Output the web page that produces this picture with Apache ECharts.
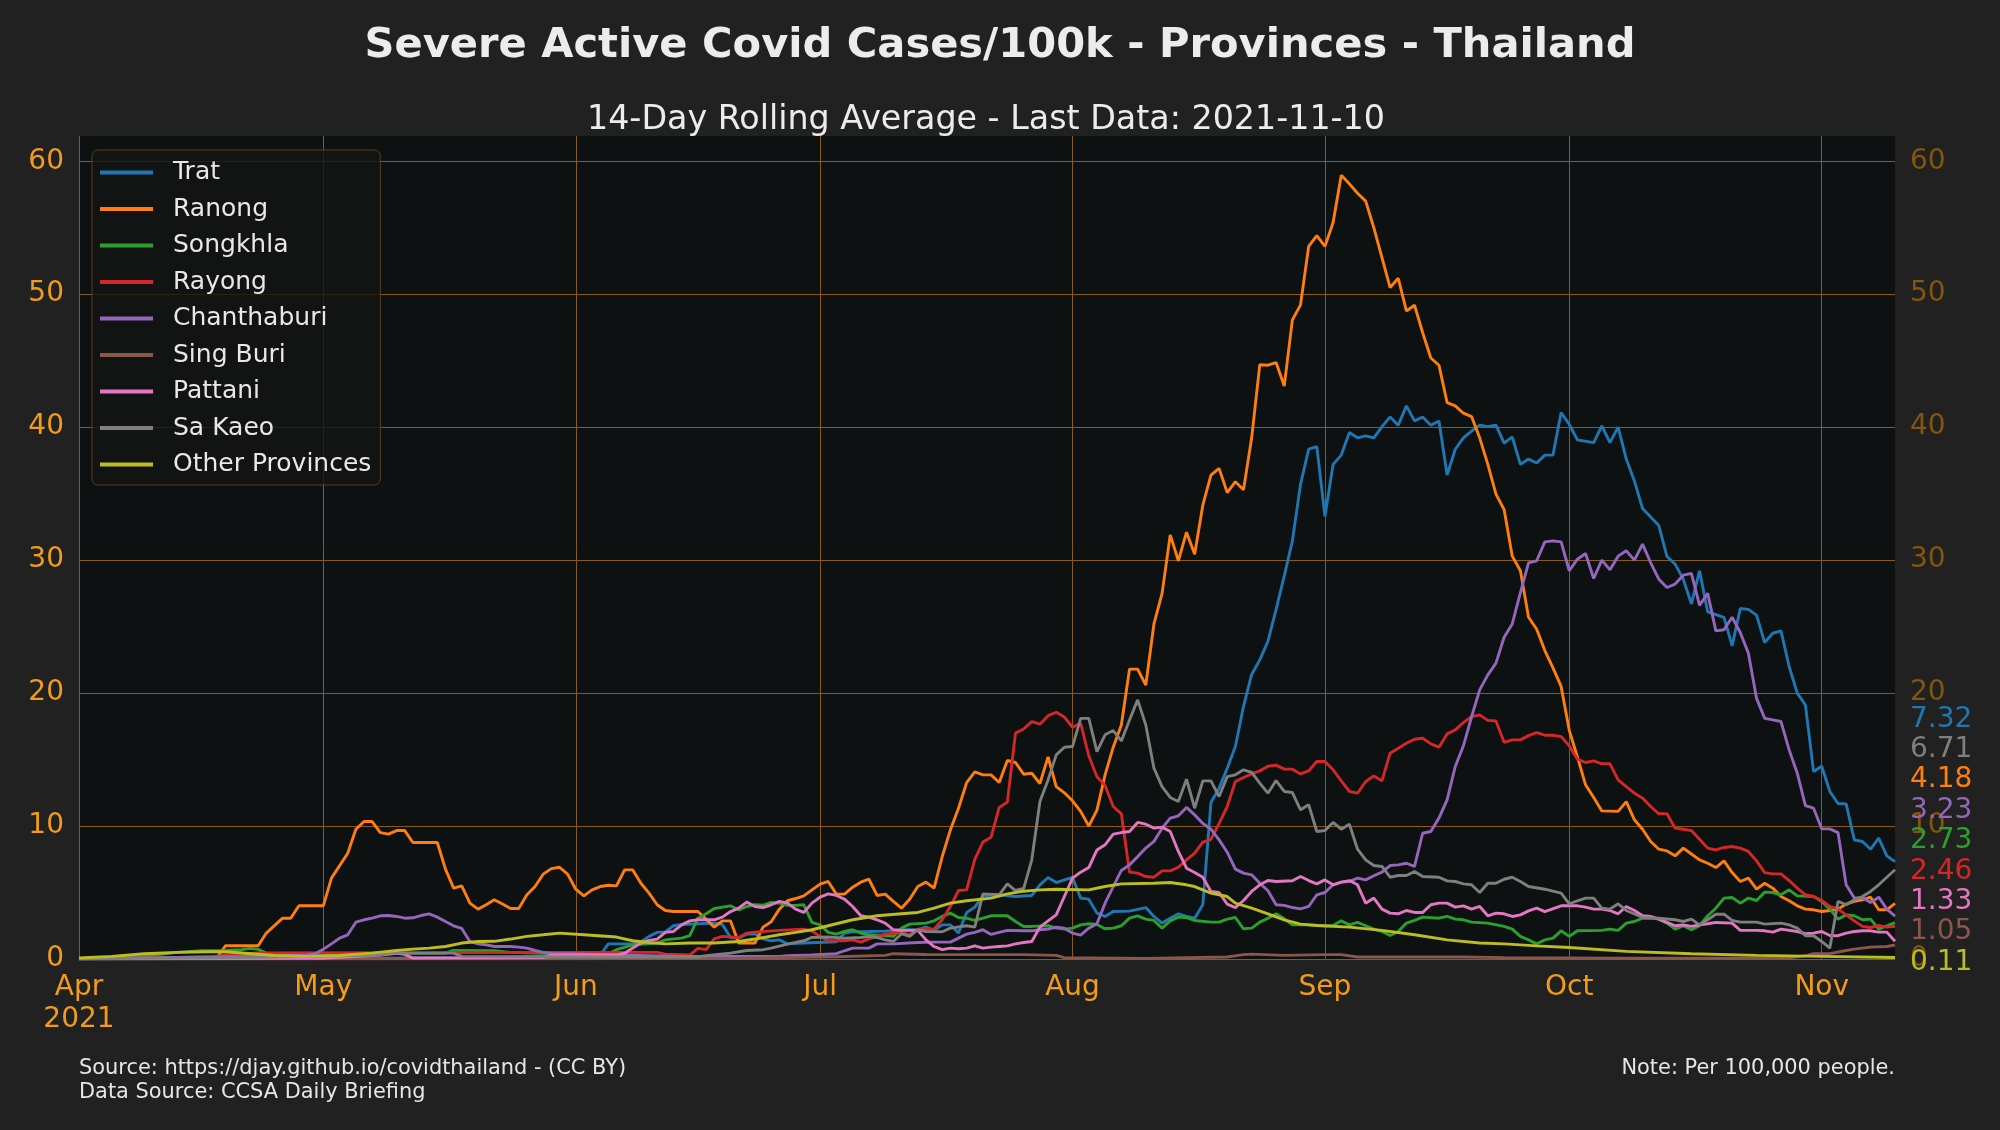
<!DOCTYPE html>
<html>
<head>
<meta charset="utf-8">
<title>Severe Active Covid Cases/100k - Provinces - Thailand</title>
<script src="https://cdn.jsdelivr.net/npm/echarts@6.0.0/dist/echarts.min.js"></script>
<style>
  html, body { margin: 0; padding: 0; background: #212121; }
  #main { width: 2000px; height: 1130px; }
</style>
</head>
<body>
<div id="main"></div>
<script>
// day offsets from 2021-04-01, values per 100k (14-day rolling average)
const startDay = Date.UTC(2021, 3, 1);
const dayCount = 224; // 2021-04-01 .. 2021-11-10
const monthNames = ['Jan', 'Feb', 'Mar', 'Apr', 'May', 'Jun', 'Jul', 'Aug', 'Sep', 'Oct', 'Nov', 'Dec'];
const yTicks = [0, 10, 20, 30, 40, 50, 60];

const trat = [[0,0.0],[30,0.05],[50,0.1],[64,0.3],[65,1.14],[68,1.14],[69,1.3],[70,1.7],[71,2.0],[72,2.04],[73,2.5],[74,2.6],[78,2.7],[79,2.6],[80,1.62],[81,1.57],[82,1.87],[83,1.9],[84,1.52],[85,1.37],[86,1.44],[87,1.14],[89,1.2],[93,1.3],[94,1.95],[95,2.05],[97,2.07],[99,2.1],[101,2.2],[103,2.2],[104,2.4],[105,2.15],[106,2.57],[107,2.57],[108,1.95],[109,3.5],[110,3.9],[111,4.75],[113,4.83],[115,4.7],[117,4.78],[118,5.58],[119,6.13],[120,5.75],[121,5.95],[122,6.13],[123,4.58],[124,4.5],[125,3.45],[126,3.2],[127,3.57],[129,3.6],[131,3.87],[132,3.2],[133,2.7],[134,3.07],[135,3.4],[136,3.2],[137,3.07],[138,4.08],[139,11.77],[140,12.85],[141,14.35],[142,15.98],[143,19.0],[144,21.4],[145,22.5],[146,23.9],[147,26.3],[148,28.8],[149,31.45],[150,35.7],[151,38.34],[152,38.54],[153,33.3],[154,37.2],[155,37.9],[156,39.6],[157,39.2],[158,39.34],[159,39.2],[160,40.04],[161,40.77],[162,40.15],[163,41.6],[164,40.47],[165,40.77],[166,40.15],[167,40.47],[168,36.4],[169,38.34],[170,39.2],[171,39.7],[172,40.15],[173,40.04],[174,40.15],[175,38.8],[176,39.27],[177,37.2],[178,37.6],[179,37.3],[180,37.9],[181,37.9],[182,41.1],[183,40.2],[184,39.04],[186,38.84],[187,40.1],[188,38.84],[189,40.0],[190,37.6],[191,35.96],[192,33.88],[193,33.25],[194,32.6],[195,30.27],[196,29.7],[197,28.57],[198,26.7],[199,29.2],[200,26.1],[201,25.9],[202,25.7],[203,23.55],[204,26.36],[205,26.3],[206,25.86],[207,23.8],[208,24.5],[209,24.68],[210,22.0],[211,20.0],[212,19.1],[213,14.1],[214,14.5],[215,12.6],[216,11.7],[217,11.67],[218,8.96],[219,8.84],[220,8.26],[221,9.09],[222,7.76],[223,7.32]];

const ranong = [[0,0.05],[10,0.1],[17,0.15],[18,1.0],[22,1.0],[23,1.95],[25,3.07],[26,3.07],[27,4.0],[30,4.0],[31,6.08],[33,7.96],[34,9.76],[35,10.34],[36,10.34],[37,9.5],[38,9.39],[39,9.66],[40,9.66],[41,8.76],[44,8.76],[45,6.76],[46,5.33],[47,5.5],[48,4.2],[49,3.75],[50,4.08],[51,4.45],[52,4.13],[53,3.8],[54,3.8],[55,4.83],[56,5.45],[57,6.38],[58,6.8],[59,6.9],[60,6.38],[61,5.25],[62,4.75],[63,5.2],[64,5.45],[65,5.55],[66,5.5],[67,6.7],[68,6.7],[69,5.7],[70,4.95],[71,4.08],[72,3.65],[73,3.57],[76,3.57],[77,3.0],[78,2.4],[79,2.87],[80,2.87],[81,1.2],[83,1.2],[84,2.4],[85,2.8],[86,3.75],[87,4.38],[88,4.55],[89,4.75],[90,5.2],[91,5.63],[92,5.83],[93,4.88],[94,4.88],[95,5.4],[96,5.78],[97,6.0],[98,4.78],[99,4.88],[100,4.33],[101,3.82],[102,4.5],[103,5.45],[104,5.78],[105,5.33],[106,7.7],[107,9.7],[108,11.34],[109,13.27],[110,14.07],[111,13.85],[112,13.85],[113,13.27],[114,14.93],[115,14.78],[116,13.9],[117,13.97],[118,13.2],[119,15.2],[120,12.97],[121,12.5],[122,11.9],[123,11.1],[124,10.0],[125,11.2],[126,13.85],[127,15.93],[128,17.6],[129,21.8],[130,21.8],[131,20.6],[132,25.2],[133,27.5],[134,31.9],[135,29.95],[136,32.1],[137,30.45],[138,34.13],[139,36.4],[140,36.9],[141,35.08],[142,35.9],[143,35.3],[144,39.2],[145,44.7],[146,44.66],[147,44.86],[148,43.1],[149,48.07],[150,49.2],[151,53.6],[152,54.4],[153,53.6],[154,55.4],[155,58.94],[156,58.3],[157,57.6],[158,57.0],[159,55.0],[160,52.75],[161,50.5],[162,51.2],[163,48.74],[164,49.17],[165,47.1],[166,45.2],[167,44.66],[168,41.85],[169,41.6],[170,41.05],[171,40.8],[172,39.2],[173,37.2],[174,34.96],[175,33.8],[176,30.3],[177,29.2],[178,25.7],[179,24.8],[180,23.2],[181,21.9],[182,20.5],[183,17.2],[184,15.2],[185,13.1],[186,12.15],[187,11.14],[189,11.1],[190,11.84],[191,10.47],[192,9.76],[193,8.84],[194,8.26],[195,8.13],[196,7.76],[197,8.34],[198,7.9],[199,7.46],[200,7.2],[201,6.88],[202,7.38],[203,6.5],[204,5.83],[205,6.08],[206,5.25],[207,5.7],[208,5.33],[209,4.7],[210,4.38],[211,4.0],[212,3.75],[213,3.7],[214,3.57],[215,3.65],[216,3.75],[217,4.13],[218,4.33],[219,4.45],[220,4.65],[221,3.7],[222,3.7],[223,4.18]];

const songkhla = [[0,0.02],[8,0.2],[12,0.5],[15,0.62],[18,0.64],[20,0.7],[21,0.8],[22,0.72],[23,0.44],[25,0.42],[29,0.3],[40,0.42],[45,0.44],[46,0.64],[51,0.62],[53,0.5],[59,0.4],[65,0.4],[66,0.7],[68,1.07],[71,1.2],[72,1.44],[74,1.57],[75,1.75],[76,3.07],[77,3.4],[78,3.8],[80,4.0],[81,3.7],[82,3.95],[83,4.08],[84,4.05],[85,4.25],[86,4.2],[87,4.03],[88,4.03],[89,4.08],[90,2.75],[91,2.57],[92,2.0],[93,1.87],[94,2.07],[95,2.2],[96,1.95],[97,1.82],[99,1.77],[100,1.7],[101,2.32],[102,2.62],[104,2.7],[105,2.87],[106,3.2],[107,3.45],[108,3.12],[109,3.07],[110,2.9],[111,3.07],[112,3.25],[114,3.25],[115,2.82],[116,2.45],[117,2.45],[119,2.5],[120,2.32],[121,2.25],[122,2.32],[123,2.57],[124,2.65],[125,2.6],[126,2.27],[127,2.32],[128,2.5],[129,3.07],[130,3.25],[131,3.0],[132,2.9],[133,2.32],[134,2.87],[135,3.15],[136,3.12],[137,2.9],[139,2.77],[140,2.77],[141,3.0],[142,3.12],[143,2.27],[144,2.32],[145,2.77],[146,3.07],[147,3.4],[148,3.02],[149,2.57],[151,2.57],[153,2.5],[154,2.52],[155,2.87],[156,2.57],[157,2.75],[158,2.5],[159,2.25],[160,2.07],[161,1.77],[162,2.07],[163,2.7],[164,2.9],[165,3.15],[167,3.07],[168,3.2],[169,3.0],[170,2.95],[171,2.77],[173,2.7],[175,2.45],[176,2.25],[177,1.7],[178,1.44],[179,1.14],[180,1.44],[181,1.57],[182,2.12],[183,1.7],[184,2.12],[187,2.15],[188,2.25],[189,2.15],[190,2.7],[191,2.82],[192,3.07],[193,3.07],[194,3.0],[195,2.7],[196,2.25],[197,2.5],[198,2.2],[199,2.5],[200,3.25],[201,3.82],[202,4.58],[203,4.63],[204,4.2],[205,4.58],[206,4.4],[207,5.03],[208,5.0],[209,4.83],[210,5.2],[211,4.75],[213,4.7],[214,4.33],[215,3.75],[216,3.0],[217,3.32],[218,3.25],[219,2.95],[220,3.0],[221,2.25],[222,2.5],[223,2.73]];

const rayong = [[0,0.05],[16,0.1],[18,0.3],[22,0.45],[58,0.5],[71,0.5],[72,0.37],[75,0.3],[76,0.8],[77,0.7],[78,1.52],[79,1.7],[81,1.62],[82,1.95],[83,2.02],[86,2.15],[89,2.25],[90,2.1],[91,1.7],[92,1.37],[94,1.37],[95,1.44],[96,1.27],[97,1.52],[99,1.87],[101,2.0],[102,1.82],[103,2.25],[105,2.25],[106,2.95],[107,3.95],[108,5.15],[109,5.2],[110,7.5],[111,8.8],[112,9.16],[113,11.4],[114,11.8],[115,17.0],[116,17.3],[117,17.86],[118,17.66],[119,18.3],[120,18.56],[121,18.2],[122,17.43],[123,17.73],[124,15.28],[125,13.7],[126,13.05],[127,11.47],[128,10.92],[129,6.53],[130,6.46],[131,6.2],[132,6.15],[133,6.63],[134,6.63],[135,6.9],[136,7.46],[137,7.96],[138,8.79],[139,9.0],[140,10.2],[141,11.47],[142,13.35],[143,13.65],[144,13.92],[145,14.15],[146,14.5],[147,14.58],[148,14.28],[149,14.28],[150,13.92],[151,14.15],[152,14.85],[153,14.85],[154,14.23],[155,13.4],[156,12.6],[157,12.47],[158,13.35],[159,13.77],[160,13.4],[161,15.48],[162,15.85],[163,16.23],[164,16.53],[165,16.6],[166,16.18],[167,15.93],[168,16.93],[169,17.23],[170,17.78],[171,18.23],[172,18.36],[173,17.95],[174,17.9],[175,16.3],[176,16.48],[177,16.48],[178,16.8],[179,17.03],[180,16.83],[181,16.83],[182,16.73],[183,16.03],[184,15.03],[185,14.78],[186,14.9],[187,14.68],[188,14.68],[189,13.47],[190,12.97],[191,12.47],[192,12.1],[193,11.47],[194,10.92],[195,10.92],[196,9.84],[197,9.76],[198,9.66],[199,9.0],[200,8.34],[201,8.2],[202,8.39],[203,8.46],[204,8.34],[205,8.09],[206,7.38],[207,6.5],[208,6.4],[209,6.4],[210,5.9],[211,5.33],[212,4.83],[213,4.7],[214,4.4],[215,3.95],[216,3.75],[217,3.32],[218,2.87],[219,2.45],[220,2.37],[221,2.52],[222,2.4],[223,2.46]];

const chanthaburi = [[0,0.05],[10,0.1],[20,0.2],[28,0.3],[29,0.4],[30,0.74],[31,1.14],[32,1.57],[33,1.82],[34,2.77],[35,2.95],[36,3.07],[37,3.25],[38,3.27],[39,3.2],[40,3.07],[41,3.1],[42,3.27],[43,3.4],[44,3.15],[45,2.82],[46,2.5],[47,2.3],[48,1.32],[49,1.14],[50,1.07],[51,0.94],[53,0.94],[54,0.89],[55,0.82],[56,0.64],[57,0.5],[58,0.42],[60,0.4],[66,0.3],[74,0.2],[86,0.2],[87,0.24],[90,0.3],[93,0.4],[94,0.62],[95,0.82],[97,0.82],[98,1.14],[100,1.14],[103,1.24],[105,1.27],[107,1.27],[108,1.57],[109,1.87],[110,2.0],[111,2.2],[112,1.85],[113,2.0],[114,2.15],[116,2.12],[117,2.12],[118,2.2],[119,2.25],[120,2.4],[121,2.32],[122,1.95],[123,1.8],[124,2.32],[125,2.65],[126,4.2],[127,5.45],[128,6.66],[129,7.08],[130,7.7],[131,8.34],[132,8.84],[133,9.84],[134,10.6],[135,10.77],[136,11.4],[137,10.84],[138,10.2],[139,9.76],[140,8.96],[141,8.03],[142,6.76],[143,6.46],[144,6.33],[145,5.7],[146,5.13],[147,4.08],[148,4.03],[149,3.87],[150,3.77],[151,3.95],[152,4.83],[153,5.0],[154,5.58],[155,5.78],[156,5.83],[157,6.08],[158,5.95],[159,6.26],[160,6.53],[161,7.03],[162,7.08],[163,7.2],[164,6.96],[165,9.46],[166,9.59],[167,10.6],[168,11.97],[169,14.48],[170,16.03],[171,18.2],[172,20.24],[173,21.37],[174,22.25],[175,24.2],[176,25.2],[177,27.56],[178,29.8],[179,29.95],[180,31.37],[181,31.45],[182,31.37],[183,29.2],[184,30.07],[185,30.5],[186,28.62],[187,30.0],[188,29.27],[189,30.3],[190,30.7],[191,30.0],[192,31.2],[193,29.8],[194,28.57],[195,27.94],[196,28.2],[197,28.87],[198,29.0],[199,26.6],[200,27.5],[201,24.68],[202,24.76],[203,25.7],[204,24.56],[205,23.0],[206,19.6],[207,18.1],[208,17.98],[209,17.86],[210,15.73],[211,13.97],[212,11.54],[213,11.34],[214,9.79],[215,9.79],[216,9.51],[217,5.58],[218,4.58],[219,4.63],[220,4.25],[221,4.65],[222,3.75],[223,3.23]];

const singBuri = [[0,0.0],[60,0.02],[80,0.05],[93,0.17],[99,0.27],[100,0.4],[104,0.34],[116,0.33],[120,0.27],[121,0.1],[131,0.05],[141,0.15],[143,0.33],[144,0.37],[148,0.27],[153,0.33],[155,0.33],[157,0.15],[170,0.15],[175,0.1],[190,0.06],[210,0.08],[212,0.24],[213,0.4],[215,0.4],[217,0.64],[218,0.74],[220,0.89],[222,0.94],[223,1.05]];

const pattani = [[0,0.02],[30,0.05],[37,0.3],[39,0.42],[40,0.35],[41,0.07],[57,0.1],[58,0.3],[66,0.3],[67,0.44],[68,0.82],[69,1.2],[70,1.4],[71,1.5],[72,2.0],[73,2.07],[74,2.57],[75,2.87],[76,2.95],[78,2.95],[79,3.15],[80,3.57],[81,3.82],[82,4.28],[83,3.95],[84,3.87],[85,4.08],[86,4.33],[87,4.2],[88,3.75],[89,3.5],[90,4.2],[91,4.65],[92,4.9],[93,4.78],[94,4.5],[95,3.95],[96,3.25],[97,3.15],[98,2.95],[99,2.7],[100,2.2],[101,2.15],[103,2.15],[104,1.44],[105,0.94],[106,0.7],[107,0.82],[108,0.77],[109,0.82],[110,0.99],[111,0.82],[112,0.89],[113,0.94],[114,0.99],[115,1.14],[116,1.24],[117,1.32],[118,2.4],[119,2.87],[120,3.32],[121,4.7],[122,6.08],[123,6.53],[124,6.88],[125,8.2],[126,8.59],[127,9.39],[128,9.51],[129,9.59],[130,10.27],[131,10.14],[132,9.84],[133,9.92],[134,9.59],[135,8.09],[136,6.83],[137,6.5],[138,6.15],[139,5.08],[140,5.0],[141,4.13],[142,3.87],[143,4.4],[144,5.08],[145,5.58],[146,5.9],[147,5.83],[149,5.88],[150,6.2],[151,5.9],[152,5.65],[153,5.95],[154,5.58],[155,5.78],[156,5.9],[157,5.58],[158,4.2],[159,4.58],[160,3.75],[161,3.45],[162,3.4],[163,3.65],[164,3.5],[165,3.5],[166,4.08],[167,4.2],[168,4.2],[169,3.9],[170,4.0],[171,3.75],[172,3.95],[173,3.25],[174,3.45],[175,3.4],[176,3.2],[177,3.32],[178,3.62],[179,3.82],[180,3.57],[182,4.0],[184,4.0],[185,3.9],[186,3.75],[187,3.75],[188,3.65],[189,3.4],[190,3.95],[191,3.65],[192,3.25],[193,3.2],[194,3.0],[195,2.75],[196,2.5],[197,2.57],[198,2.45],[199,2.57],[200,2.65],[201,2.75],[203,2.7],[204,2.15],[206,2.15],[207,2.12],[208,2.02],[209,2.25],[211,2.07],[212,1.9],[213,1.95],[214,2.07],[215,1.77],[216,1.75],[217,1.95],[218,2.07],[219,2.12],[220,2.12],[221,2.02],[222,2.02],[223,1.33]];

const saKaeo = [[0,0.02],[20,0.1],[37,0.3],[38,0.44],[46,0.44],[47,0.2],[60,0.15],[76,0.15],[77,0.24],[80,0.44],[82,0.64],[84,0.7],[85,0.82],[87,1.12],[89,1.37],[90,1.62],[92,1.65],[94,1.57],[96,1.62],[97,1.7],[98,1.62],[99,1.44],[100,1.32],[101,1.9],[102,1.7],[103,2.2],[104,2.07],[106,2.05],[107,2.32],[109,2.5],[110,2.4],[111,4.9],[113,4.83],[114,5.65],[115,5.15],[116,5.3],[117,7.46],[118,11.85],[119,13.47],[120,15.35],[121,15.93],[122,15.98],[123,18.1],[124,18.1],[125,15.6],[126,16.86],[127,17.18],[128,16.4],[129,17.98],[130,19.49],[131,17.6],[132,14.35],[133,12.97],[134,12.15],[135,11.85],[136,13.52],[137,11.34],[138,13.4],[139,13.4],[140,12.22],[141,13.72],[142,13.85],[143,14.23],[144,14.03],[145,13.22],[146,12.47],[147,13.42],[148,12.6],[149,12.52],[150,11.22],[151,11.6],[152,9.59],[153,9.66],[154,10.27],[155,9.76],[156,10.14],[157,8.26],[158,7.46],[159,7.03],[160,6.96],[161,6.15],[162,6.28],[163,6.28],[164,6.58],[165,6.2],[167,6.15],[168,5.88],[169,5.83],[170,5.65],[171,5.58],[172,5.0],[173,5.7],[174,5.7],[175,6.0],[176,6.15],[177,5.83],[178,5.45],[180,5.25],[182,4.95],[183,4.15],[184,4.38],[185,4.58],[186,4.58],[187,3.82],[188,3.75],[189,4.15],[190,3.65],[192,3.12],[194,3.07],[196,2.95],[197,2.82],[198,3.0],[199,2.57],[200,2.95],[201,3.37],[202,3.37],[203,2.9],[204,2.77],[206,2.77],[207,2.62],[209,2.7],[210,2.57],[211,2.32],[212,1.75],[213,1.75],[214,1.32],[215,0.82],[216,4.33],[217,4.08],[218,4.45],[219,4.7],[220,5.08],[221,5.58],[222,6.15],[223,6.71]];

const otherProvinces = [[0,0.07],[4,0.2],[8,0.4],[12,0.5],[16,0.55],[18,0.54],[20,0.45],[24,0.26],[28,0.2],[32,0.26],[36,0.44],[39,0.64],[41,0.74],[43,0.82],[45,0.94],[47,1.2],[49,1.32],[51,1.33],[53,1.5],[55,1.7],[57,1.82],[59,1.95],[62,1.82],[66,1.65],[68,1.37],[70,1.24],[72,1.14],[75,1.2],[78,1.2],[81,1.32],[83,1.5],[86,1.82],[88,2.0],[90,2.2],[93,2.65],[95,2.95],[98,3.25],[101,3.4],[103,3.5],[105,3.82],[107,4.2],[109,4.38],[112,4.58],[114,4.9],[116,5.1],[118,5.2],[120,5.25],[124,5.2],[126,5.45],[128,5.65],[132,5.7],[134,5.75],[136,5.58],[137,5.45],[139,4.95],[141,4.7],[142,4.2],[144,3.82],[146,3.4],[148,2.95],[150,2.62],[152,2.52],[156,2.4],[160,2.15],[164,1.82],[168,1.44],[172,1.2],[175,1.14],[179,0.99],[183,0.87],[190,0.57],[198,0.4],[206,0.27],[214,0.2],[223,0.11]];

const provinces = [
  { name: 'Trat', color: '#1f77b4', data: trat },
  { name: 'Ranong', color: '#ff7f0e', data: ranong },
  { name: 'Songkhla', color: '#2ca02c', data: songkhla },
  { name: 'Rayong', color: '#d62728', data: rayong },
  { name: 'Chanthaburi', color: '#9467bd', data: chanthaburi },
  { name: 'Sing Buri', color: '#8c564b', data: singBuri },
  { name: 'Pattani', color: '#e377c2', data: pattani },
  { name: 'Sa Kaeo', color: '#7f7f7f', data: saKaeo },
  { name: 'Other Provinces', color: '#bcbd22', data: otherProvinces }
];

const dates = [];
for (let i = 0; i < dayCount; i++) {
  dates.push(new Date(startDay + i * 86400000).toISOString().slice(0, 10));
}
const isMonthStart = (idx, val) => val.slice(8) === '01';

const font = 'DejaVu Sans';
const gridColor = '#8a5a16';
const tickOrange = '#f39c1a';
const tickBrown = '#82560e';

const chart = echarts.init(document.getElementById('main'));

chart.setOption({
  animation: false,
  backgroundColor: '#212121',
  textStyle: { fontFamily: font },
  title: [
    { text: 'Severe Active Covid Cases/100k - Provinces - Thailand', left: 'center', top: 25, padding: 0,
      textStyle: { color: '#ececec', fontSize: 41.6, fontWeight: 'bold', fontFamily: font } },
    { text: '14-Day Rolling Average - Last Data: 2021-11-10', left: 587, top: 103.5, padding: 0,
      textStyle: { color: '#ececec', fontSize: 33.3, fontWeight: 'normal', fontFamily: font } },
    { text: 'Source: https://djay.github.io/covidthailand - (CC BY)\nData Source: CCSA Daily Briefing', left: 79, top: 1057, padding: 0,
      textStyle: { color: '#e6e6e6', fontSize: 20.9, lineHeight: 24, fontWeight: 'normal', fontFamily: font } },
    { text: 'Note: Per 100,000 people.', right: 105, top: 1057, padding: 0,
      textStyle: { color: '#e6e6e6', fontSize: 20.9, lineHeight: 24, fontWeight: 'normal', fontFamily: font } }
  ],
  legend: {
    orient: 'vertical',
    left: 92,
    top: 150,
    padding: [10, 9, 8, 8],
    icon: 'rect',
    itemWidth: 53,
    itemHeight: 4,
    itemGap: 11.5,
    backgroundColor: 'rgba(20,20,20,0.8)',
    borderColor: '#56401a',
    borderWidth: 1,
    borderRadius: 6,
    textStyle: { color: '#e8e8e8', fontSize: 25, fontFamily: font, padding: [0, 0, 0, 15] },
    data: provinces.map(p => p.name)
  },
  grid: {
    left: 79, right: 105, top: 136, bottom: 171,
    show: true, backgroundColor: '#0d1111', borderWidth: 0
  },
  xAxis: {
    type: 'category',
    data: dates,
    boundaryGap: false,
    axisLine: { show: false },
    axisTick: { show: false },
    axisLabel: {
      interval: isMonthStart,
      color: tickOrange, fontSize: 28, lineHeight: 32, margin: 12.5, fontFamily: font,
      formatter: val => {
        const m = monthNames[+val.slice(5, 7) - 1];
        return val.slice(5, 7) === '04' ? m + '\n2021' : m;
      }
    },
    splitLine: { show: true, interval: isMonthStart, lineStyle: { color: gridColor, width: 1 } }
  },
  yAxis: [
    {
      type: 'value', min: 0, max: 61.9, interval: 10,
      axisLine: { show: false }, axisTick: { show: false },
      axisLabel: { color: tickOrange, fontSize: 28, margin: 15, padding: [14, 0, 0, 0], fontFamily: font, showMaxLabel: false,
        formatter: v => (yTicks.indexOf(v) >= 0 ? String(v) : '') },
      splitLine: { show: true, lineStyle: { color: [gridColor, gridColor, gridColor, gridColor, gridColor, gridColor, gridColor, 'rgba(0,0,0,0)'], width: 1 } }
    },
    {
      type: 'value', min: 0, max: 61.9, interval: 10, position: 'right',
      axisLine: { show: false }, axisTick: { show: false },
      axisLabel: { color: tickBrown, fontSize: 28, margin: 15, padding: [14, 0, 0, 0], fontFamily: font, showMaxLabel: false,
        formatter: v => (yTicks.indexOf(v) >= 0 ? String(v) : '') },
      splitLine: { show: false }
    }
  ],
  series: provinces.map(p => ({
    name: p.name,
    type: 'line',
    symbol: 'none',
    color: p.color,
    lineStyle: { width: 2.9, color: p.color },
    data: p.data.map(d => [dates[d[0]], d[1]])
  }))
});

// end-of-line value labels, stacked from the bottom so they don't overlap (like the reference)
const lastDate = dates[dayCount - 1];
const ends = provinces.map((p, i) => {
  const v = p.data[p.data.length - 1][1];
  return { i: i, v: v, py: chart.convertToPixel({ gridIndex: 0 }, [lastDate, v])[1] };
}).sort((a, b) => a.v - b.v);
const labelGap = 30.4;
let prevY = Infinity;
ends.forEach(e => {
  e.ty = Math.min(e.py, prevY - labelGap);
  prevY = e.ty;
});
const offsets = {};
ends.forEach(e => { offsets[e.i] = e.ty - e.py + 5; });

chart.setOption({
  series: provinces.map((p, i) => ({
    endLabel: {
      show: true,
      distance: 0,
      offset: [15, offsets[i]],
      color: p.color,
      fontSize: 28,
      fontFamily: font,
      formatter: () => p.data[p.data.length - 1][1].toFixed(2)
    }
  }))
});
</script>
</body>
</html>
